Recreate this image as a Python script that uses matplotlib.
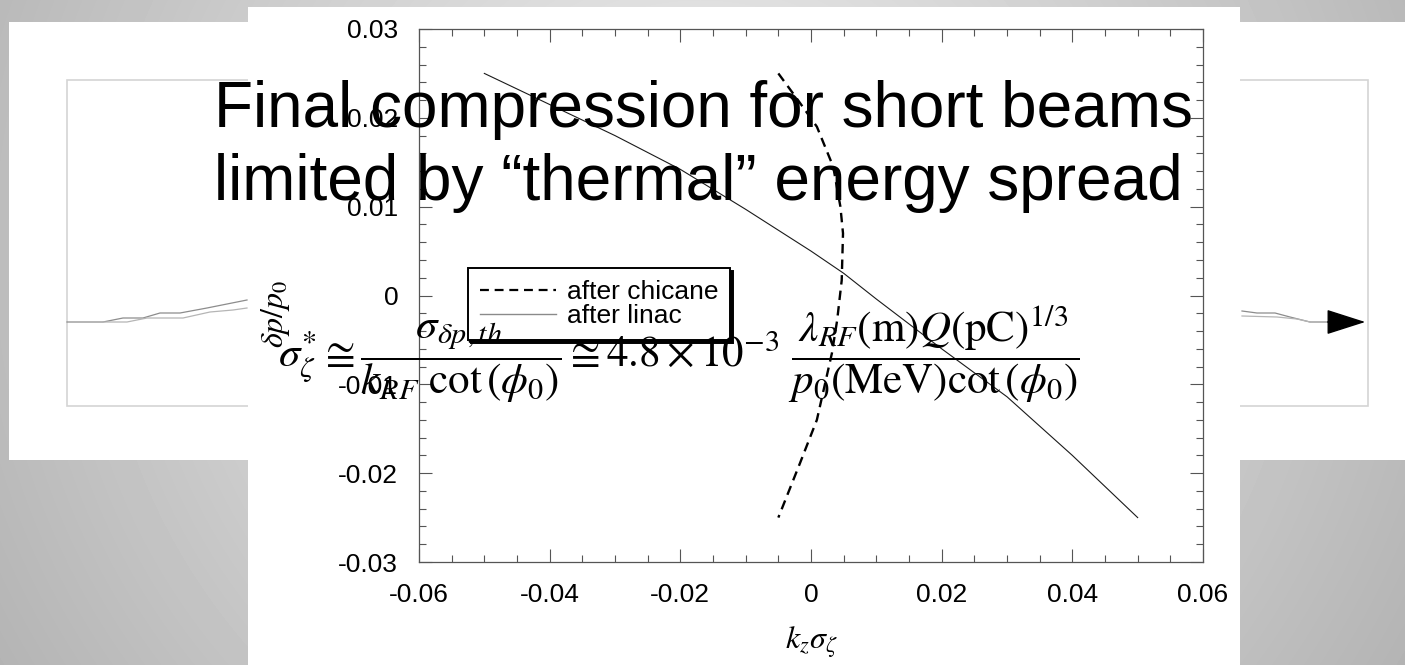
import numpy as np
import matplotlib
matplotlib.use('Agg')
import matplotlib.pyplot as plt
from matplotlib.patches import Rectangle
from matplotlib.lines import Line2D
from matplotlib.ticker import FixedLocator, FixedFormatter, MultipleLocator

plt.rcParams['font.family'] = ['Liberation Sans', 'DejaVu Sans']
plt.rcParams['mathtext.fontset'] = 'stix'

# curves (k_z sigma_z, delta p / p0)
linac_x = [-0.050, -0.040, -0.030, -0.020, -0.010, 0.000, 0.005, 0.010, 0.020, 0.030, 0.040, 0.050]
linac_y = [0.0250, 0.0215, 0.0180, 0.0142, 0.0097, 0.0050, 0.0025, -0.0004, -0.0060, -0.0114, -0.0180, -0.0250]

chicane_x = [-0.0050, -0.0020, 0.0009, 0.0034, 0.0045, 0.0049, 0.0047, 0.0040, 0.0032, 0.0009, -0.0017, -0.0050]
chicane_y = [0.0250, 0.0220, 0.0190, 0.0145, 0.0100, 0.0070, 0.0017, -0.0028, -0.0065, -0.0140, -0.0189, -0.0250]

xticks = [-0.06, -0.04, -0.02, 0.0, 0.02, 0.04, 0.06]
xtick_labels = ['-0.06', '-0.04', '-0.02', '0', '0.02', '0.04', '0.06']
yticks = [-0.03, -0.02, -0.01, 0.0, 0.01, 0.02, 0.03]
ytick_labels = ['-0.03', '-0.02', '-0.01', '0', '0.01', '0.02', '0.03']

legend_labels = ['after chicane', 'after linac']

title_lines = ['Final compression for short beams',
               'limited by \u201cthermal\u201d energy spread']

formula = (r'$\sigma_{\zeta}^{*} \cong \dfrac{\sigma_{\delta p,th}}{k_{RF}\ \cot\left(\phi_0\right)}'
           r' \cong 4.8\times10^{-3}\ \dfrac{\lambda_{RF}\left(\mathrm{m}\right)Q\left(\mathrm{pC}\right)^{1/3}}'
           r'{p_0\left(\mathrm{MeV}\right)\cot\left(\phi_0\right)}$')

# slide chart traces lying behind the picture (slide pixel units)
back_a_x = [67, 103, 123, 143, 160, 180, 207, 247]
back_a_y = [322, 322, 318, 318, 313, 313, 308, 300]
back_b_x = [103, 127, 147, 183, 210, 233, 247]
back_b_y = [322, 322, 318, 318, 312, 310, 308]
back_c_x = [1242, 1257, 1275, 1290, 1310, 1340]
back_c_y = [311, 313, 313, 317, 322, 322]
back_d_x = [1242, 1277, 1297, 1310]
back_d_y = [316, 317, 319, 322]

W, H = 1405, 665
fig = plt.figure(figsize=(W / 100, H / 100), dpi=100)

# slide background
bg = fig.add_axes([0, 0, 1, 1])
bg.set_xlim(0, W)
bg.set_ylim(H, 0)
bg.axis('off')
gx, gy = np.meshgrid(np.arange(W), np.arange(H))
shade = 0.95 - 0.30 * np.hypot(gx - 700, gy - 250) / 1000
bg.imshow(shade, cmap='gray', vmin=0, vmax=1, extent=(0, W, H, 0), aspect='auto', zorder=0)
bg.add_patch(Rectangle((9, 22), W - 9, 438, facecolor='white', edgecolor='none', zorder=1))
bg.add_patch(Rectangle((67, 80), 1301, 326, facecolor='none', edgecolor='#d4d4d4', lw=1.2, zorder=2))
bg.plot(back_a_x, back_a_y, color='#8c8c8c', lw=0.9, zorder=3)
bg.plot(back_b_x, back_b_y, color='#b5b5b5', lw=0.9, zorder=3)
bg.plot(back_c_x, back_c_y, color='#8c8c8c', lw=0.9, zorder=3)
bg.plot(back_d_x, back_d_y, color='#b5b5b5', lw=0.9, zorder=3)
bg.annotate('', xy=(1368, 322), xytext=(1325, 322),
            arrowprops=dict(arrowstyle='-|>,head_length=1.25,head_width=0.4',
                            mutation_scale=20, color='black', lw=1), zorder=4)
bg.add_patch(Rectangle((248, 6.5), 992, H - 6.5, facecolor='white', edgecolor='none', zorder=5))

# the plot itself
ax = fig.add_axes([419 / W, 1 - 562 / H, 784 / W, 533 / H])
ax.patch.set_alpha(0)
ax.plot(linac_x, linac_y, color='#1a1a1a', lw=0.8, label=legend_labels[1])
ax.plot(chicane_x, chicane_y, color='black', lw=1.7, ls=(0, (4, 2.6)), label=legend_labels[0])
ax.set_xlim(-0.06, 0.06)
ax.set_ylim(-0.03, 0.03)
ax.xaxis.set_major_locator(FixedLocator(xticks))
ax.xaxis.set_major_formatter(FixedFormatter(xtick_labels))
ax.yaxis.set_major_locator(FixedLocator(yticks))
ax.yaxis.set_major_formatter(FixedFormatter(ytick_labels))
ax.xaxis.set_minor_locator(MultipleLocator(0.005))
ax.yaxis.set_minor_locator(MultipleLocator(0.002))
ax.tick_params(which='both', direction='in', top=True, right=True, color='#555555', width=0.8,
               labelsize=19, pad=15)
ax.tick_params(which='major', length=9.5)
ax.tick_params(which='minor', length=5)
for sp in ax.spines.values():
    sp.set_color('#555555')
    sp.set_linewidth(0.9)

handles = [Line2D([], [], color='black', lw=1.6, ls=(0, (4, 2.6))),
           Line2D([], [], color='#8a8a8a', lw=1.0)]
leg = ax.legend(handles, legend_labels, loc='upper left', bbox_to_anchor=((468 - 419) / 784, (562 - 268) / 533),
                borderaxespad=0, fancybox=False, shadow={'color': 'black', 'alpha': 1},
                edgecolor='black', framealpha=1, fontsize=19, handlelength=2.9,
                handletextpad=0.4, labelspacing=0.0, borderpad=0.45)
leg.get_frame().set_linewidth(1.4)

fig.text(811 / W, 1 - 650 / H, r'$k_z\sigma_\zeta$', fontsize=23, ha='center', va='baseline')
fig.text(276 / W, 1 - 314 / H, r'$\delta p/p_0$', fontsize=23, rotation=90, ha='center', va='center')

# slide text on top
fig.text(214 / W, 1 - 127 / H, title_lines[0], fontsize=46, va='baseline', zorder=10)
fig.text(214 / W, 1 - 200 / H, title_lines[1], fontsize=46, va='baseline', zorder=10)
fig.text(278 / W, 1 - 367 / H, formula, fontsize=31, va='baseline', zorder=10)

fig.savefig('out.png', dpi=100)
